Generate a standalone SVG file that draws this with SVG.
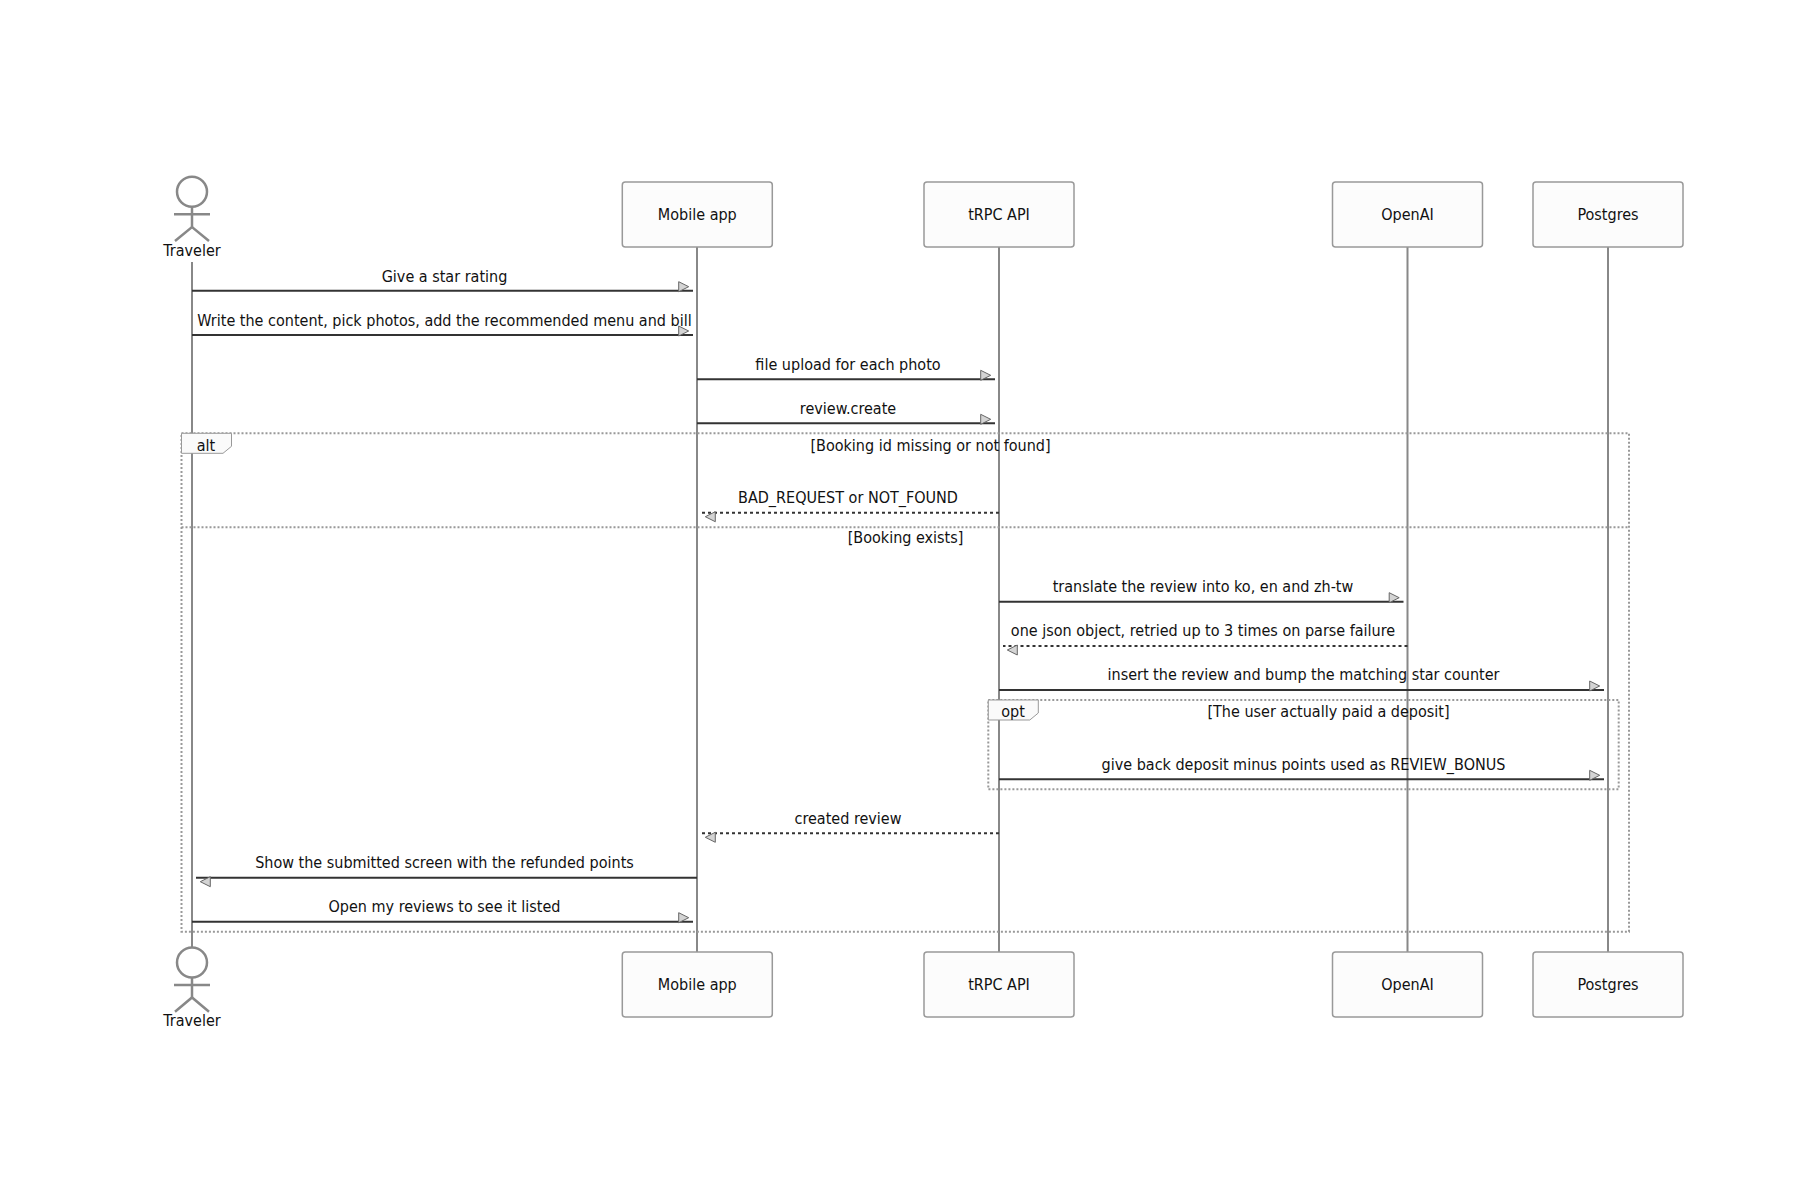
<svg xmlns="http://www.w3.org/2000/svg" width="1800" height="1200" viewBox="0 0 1800 1200">
<style>
text{font-family:"DejaVu Sans Condensed","DejaVu Sans","Liberation Sans",sans-serif;font-stretch:condensed;font-size:16px;fill:#111;text-anchor:middle;dominant-baseline:central}
.box{fill:#fcfcfc;stroke:#999;stroke-width:1.5}
.life{stroke:#888;stroke-width:2;fill:none}
.fig{stroke:#888;stroke-width:2.5;fill:#fff}
.msg{stroke:#333;stroke-width:2;fill:none;marker-end:url(#arr)}
.dash{stroke-dasharray:3,3}
.frame{stroke:#999;stroke-width:2;stroke-dasharray:2,2;fill:none}
.lbl{fill:#fafafa;stroke:#999;stroke-width:1}
</style>
<defs>
<marker id="arr" markerUnits="userSpaceOnUse" markerWidth="20" markerHeight="20" refX="14.3" refY="9" orient="auto" overflow="visible">
<path d="M0,0 L10,5 L0,10 z" fill="#d4d4d4" stroke="#666" stroke-width="1"/>
</marker>
</defs>
<rect width="1800" height="1200" fill="#fff"/>

<g id="lifelines">
<line class="life" x1="192" y1="262" x2="192" y2="947"/>
<line class="life" x1="697" y1="247" x2="697" y2="952"/>
<line class="life" x1="999" y1="247" x2="999" y2="952"/>
<line class="life" x1="1407.5" y1="247" x2="1407.5" y2="952"/>
<line class="life" x1="1608" y1="247" x2="1608" y2="952"/>
</g>

<g id="frames">
<g id="alt-frame">
<rect class="frame" x="181.5" y="433.3" width="1447.5" height="498.4"/>
<line class="frame" x1="181.5" y1="527.3" x2="1629" y2="527.3"/>
<polygon class="lbl" points="181.5,433.3 231.5,433.3 231.5,446.3 223,453.3 181.5,453.3"/>
<text x="206" y="445">alt</text>
<text x="930.5" y="445.5">[Booking id missing or not found]</text>
<text x="905.5" y="537">[Booking exists]</text>
</g>
<g id="opt-frame">
<rect class="frame" x="988.3" y="700" width="630.4" height="89.3"/>
<polygon class="lbl" points="988.3,700 1038.3,700 1038.3,713 1029.8,720 988.3,720"/>
<text x="1013" y="711.5">opt</text>
<text x="1328.5" y="711.5">[The user actually paid a deposit]</text>
</g>
</g>

<g id="connectors">
<line class="msg" x1="192" y1="290.7" x2="693" y2="290.7"/>
<text x="444.5" y="276">Give a star rating</text>
<line class="msg" x1="192" y1="335" x2="693" y2="335"/>
<text x="444.5" y="320">Write the content, pick photos, add the recommended menu and bill</text>
<line class="msg" x1="697" y1="379.3" x2="995" y2="379.3"/>
<text x="848" y="364">file upload for each photo</text>
<line class="msg" x1="697" y1="423.3" x2="995" y2="423.3"/>
<text x="848" y="408">review.create</text>
<line class="msg dash" x1="999" y1="512.7" x2="701" y2="512.7"/>
<text x="848" y="497.8">BAD_REQUEST or NOT_FOUND</text>
<line class="msg" x1="999" y1="601.7" x2="1403.5" y2="601.7"/>
<text x="1203" y="586.5">translate the review into ko, en and zh-tw</text>
<line class="msg dash" x1="1407.5" y1="646" x2="1003" y2="646"/>
<text x="1203" y="630.5">one json object, retried up to 3 times on parse failure</text>
<line class="msg" x1="999" y1="690" x2="1604" y2="690"/>
<text x="1303.5" y="674.8">insert the review and bump the matching star counter</text>
<line class="msg" x1="999" y1="779.3" x2="1604" y2="779.3"/>
<text x="1303.5" y="764.3">give back deposit minus points used as REVIEW_BONUS</text>
<line class="msg dash" x1="999" y1="833.3" x2="701" y2="833.3"/>
<text x="848" y="818.3">created review</text>
<line class="msg" x1="697" y1="877.7" x2="196" y2="877.7"/>
<text x="444.5" y="862.5">Show the submitted screen with the refunded points</text>
<line class="msg" x1="192" y1="921.7" x2="693" y2="921.7"/>
<text x="444.5" y="906.5">Open my reviews to see it listed</text>
</g>

<g id="traveler-top">
<circle class="fig" cx="192" cy="191.7" r="15"/>
<line class="fig" x1="192" y1="206.7" x2="192" y2="227"/>
<line class="fig" x1="174" y1="214.3" x2="210" y2="214.3"/>
<polyline class="fig" fill="none" points="175,241 192,227 209,241"/>
<text x="192" y="250">Traveler</text>
</g>
<g id="mobile-top"><rect class="box" x="622.3" y="182" width="150" height="65" rx="3"/><text x="697.3" y="214.5">Mobile app</text></g>
<g id="trpc-top"><rect class="box" x="924" y="182" width="150" height="65" rx="3"/><text x="999" y="214.5">tRPC API</text></g>
<g id="openai-top"><rect class="box" x="1332.5" y="182" width="150" height="65" rx="3"/><text x="1407.5" y="214.5">OpenAI</text></g>
<g id="postgres-top"><rect class="box" x="1533" y="182" width="150" height="65" rx="3"/><text x="1608" y="214.5">Postgres</text></g>

<g id="traveler-bottom">
<circle class="fig" cx="192" cy="962.5" r="15"/>
<line class="fig" x1="192" y1="977.5" x2="192" y2="997.5"/>
<line class="fig" x1="174" y1="985" x2="210" y2="985"/>
<polyline class="fig" fill="none" points="175,1011.7 192,997.5 209,1011.7"/>
<text x="192" y="1020">Traveler</text>
</g>
<g id="mobile-bottom"><rect class="box" x="622.3" y="952" width="150" height="65" rx="3"/><text x="697.3" y="984.5">Mobile app</text></g>
<g id="trpc-bottom"><rect class="box" x="924" y="952" width="150" height="65" rx="3"/><text x="999" y="984.5">tRPC API</text></g>
<g id="openai-bottom"><rect class="box" x="1332.5" y="952" width="150" height="65" rx="3"/><text x="1407.5" y="984.5">OpenAI</text></g>
<g id="postgres-bottom"><rect class="box" x="1533" y="952" width="150" height="65" rx="3"/><text x="1608" y="984.5">Postgres</text></g>
</svg>
